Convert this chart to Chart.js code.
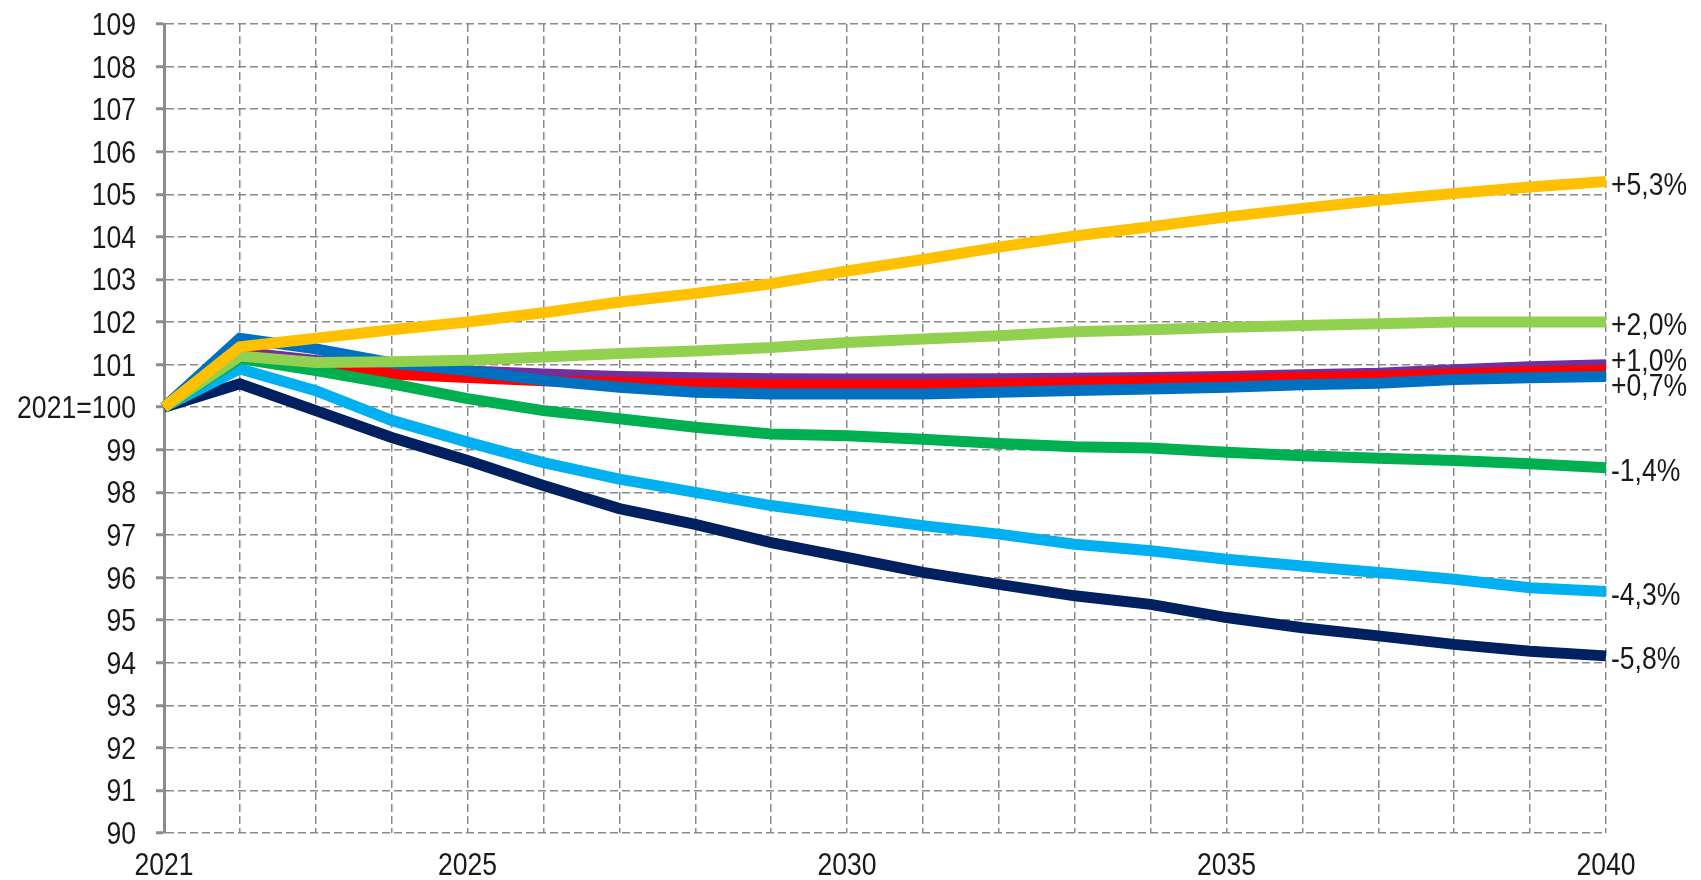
<!DOCTYPE html>
<html>
<head>
<meta charset="utf-8">
<script src="https://cdn.jsdelivr.net/npm/chart.js@4/dist/chart.umd.min.js"></script>
<style>
    body { margin: 0; background: #ffffff; }
    #wrap { width: 1701px; height: 880px; }
</style>
</head>
<body>
<div id="wrap"><canvas id="indexChart" width="1701" height="880"></canvas></div>
<script>
const years = [2021, 2022, 2023, 2024, 2025, 2026, 2027, 2028, 2029, 2030,
               2031, 2032, 2033, 2034, 2035, 2036, 2037, 2038, 2039, 2040];
const tickYears = [2021, 2025, 2030, 2035, 2040];

const yellowSeries = [100, 101.42, 101.62, 101.82, 102.0, 102.22, 102.47, 102.67, 102.9, 103.2,
                      103.47, 103.76, 104.02, 104.24, 104.47, 104.67, 104.86, 105.02, 105.17, 105.3];
const lightGreenSeries = [100, 101.2, 101.05, 101.07, 101.1, 101.18, 101.26, 101.32, 101.4, 101.52,
                          101.6, 101.68, 101.77, 101.82, 101.88, 101.92, 101.96, 102.0, 102.0, 102.0];
const purpleSeries = [100, 101.3, 101.1, 100.95, 100.85, 100.78, 100.72, 100.69, 100.67, 100.66,
                      100.66, 100.67, 100.68, 100.7, 100.72, 100.76, 100.8, 100.88, 100.95, 101.0];
const redSeries = [100, 101.25, 100.93, 100.78, 100.7, 100.62, 100.58, 100.55, 100.53, 100.53,
                   100.53, 100.55, 100.58, 100.62, 100.65, 100.7, 100.73, 100.78, 100.84, 100.87];
const blueSeries = [100, 101.62, 101.37, 101.04, 100.86, 100.63, 100.47, 100.35, 100.31, 100.31,
                    100.31, 100.35, 100.39, 100.43, 100.47, 100.53, 100.56, 100.65, 100.69, 100.72];
const greenSeries = [100, 101.14, 100.86, 100.55, 100.2, 99.92, 99.73, 99.53, 99.37, 99.33,
                     99.25, 99.15, 99.07, 99.04, 98.94, 98.86, 98.8, 98.75, 98.67, 98.58];
const lightBlueSeries = [100, 100.9, 100.39, 99.69, 99.18, 98.7, 98.31, 98.0, 97.69, 97.45,
                         97.22, 97.02, 96.78, 96.63, 96.43, 96.27, 96.12, 95.96, 95.76, 95.67];
const navySeries = [100, 100.55, 99.92, 99.29, 98.75, 98.16, 97.62, 97.25, 96.82, 96.47,
                    96.12, 95.84, 95.57, 95.37, 95.06, 94.82, 94.63, 94.43, 94.27, 94.16];

const endLabels = {
    yellow: '+5,3%',
    lightGreen: '+2,0%',
    purple: '+1,0%',
    blue: '+0,7%',
    green: '-1,4%',
    lightBlue: '-4,3%',
    navy: '-5,8%'
};

const FONT = '32px "Liberation Sans", Arial, sans-serif';
const NARROW = 0.83;   // the original uses a condensed face
const TEXT = '#1a1a1a';
const GRID = '#8a8a8a';

function line(data, color, label) {
    return {
        data: data,
        borderColor: color,
        backgroundColor: color,
        borderWidth: 11,
        borderJoinStyle: 'miter',
        borderCapStyle: 'butt',
        pointRadius: 0,
        tension: 0,
        fill: false,
        endLabel: label
    };
}

function narrowText(ctx, text, x, y, align) {
    ctx.save();
    ctx.translate(x, y);
    ctx.scale(NARROW, 1);
    ctx.textAlign = align;
    ctx.fillText(text, 0, 0);
    ctx.restore();
}

// axis labels + labels at the right end of each line
const labelPlugin = {
    id: 'labels',
    afterDraw(chart) {
        const { ctx, chartArea, scales: { x, y } } = chart;
        ctx.save();
        ctx.font = FONT;
        ctx.fillStyle = TEXT;
        ctx.textBaseline = 'alphabetic';

        y.ticks.forEach(t => {
            const txt = t.value === 100 ? '2021=100' : String(t.value);
            narrowText(ctx, txt, chartArea.left - 28, y.getPixelForValue(t.value) + 11, 'right');
        });

        years.forEach((yr, i) => {
            if (!tickYears.includes(yr)) return;
            narrowText(ctx, String(yr), x.getPixelForValue(i), 875, 'center');
        });

        const items = [];
        chart.data.datasets.forEach(ds => {
            if (!ds.endLabel) return;
            items.push({ text: ds.endLabel, y: y.getPixelForValue(ds.data[ds.data.length - 1]) });
        });
        items.sort((a, b) => a.y - b.y);
        const minGap = 25;
        for (let i = 1; i < items.length; i++) {
            const gap = items[i].y - items[i - 1].y;
            if (gap < minGap) {
                const shift = (minGap - gap) / 2;
                items[i - 1].y -= shift;
                items[i].y += shift;
            }
        }
        items.forEach(it => narrowText(ctx, it.text, chartArea.right + 5, it.y + 13, 'left'));
        ctx.restore();
    }
};

function drawChart() {
    new Chart(document.getElementById('indexChart'), {
        type: 'line',
        data: {
            labels: years,
            datasets: [
                line(yellowSeries, '#FFC000', endLabels.yellow),
                line(lightGreenSeries, '#92D050', endLabels.lightGreen),
                line(greenSeries, '#00B050', endLabels.green),
                line(blueSeries, '#0070C0', endLabels.blue),
                line(redSeries, '#FF0000', null),
                line(purpleSeries, '#7030A0', endLabels.purple),
                line(lightBlueSeries, '#00B0F0', endLabels.lightBlue),
                line(navySeries, '#002060', endLabels.navy)
            ]
        },
        options: {
            responsive: false,
            animation: false,
            devicePixelRatio: 1,
            layout: { padding: { top: 24, right: 95, bottom: 0, left: 0 } },
            plugins: {
                legend: { display: false },
                tooltip: { enabled: false }
            },
            scales: {
                x: {
                    type: 'category',
                    offset: false,
                    afterFit: s => { s.height = 47; },
                    grid: { color: GRID, lineWidth: 1.5, drawTicks: false },
                    border: { display: false, dash: [8, 4] },
                    ticks: { display: false, autoSkip: false }
                },
                y: {
                    min: 90,
                    max: 109,
                    afterFit: s => { s.width = 164; },
                    grid: { color: GRID, lineWidth: 1.5, tickLength: 8, tickColor: '#8c8c8c', tickWidth: 3 },
                    border: { display: true, color: '#8c8c8c', width: 3, dash: [8, 4] },
                    ticks: { display: false, autoSkip: false, stepSize: 1 }
                }
            }
        },
        plugins: [labelPlugin]
    });
}

document.addEventListener('DOMContentLoaded', drawChart);
</script>
</body>
</html>
